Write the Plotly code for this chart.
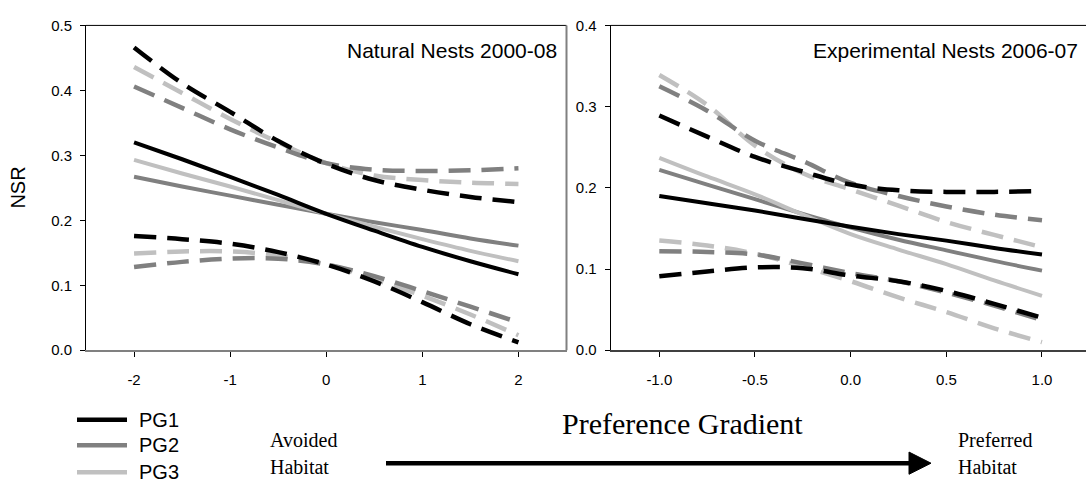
import plotly.graph_objects as go

W, H = 1086, 490


def px(x):
    return x / W


def py(y):
    return 1 - y / H


# ---------------- data ----------------
groups = ["PG1", "PG2", "PG3"]

# Natural Nests 2000-08
nat_x = [-2, -1.5, -1, -0.5, 0, 0.5, 1, 1.5, 2]
nat_pg1_fit = [0.320, 0.294, 0.267, 0.239, 0.210, 0.184, 0.159, 0.137, 0.117]
nat_pg1_hi = [0.466, 0.411, 0.367, 0.322, 0.287, 0.262, 0.247, 0.236, 0.228]
nat_pg1_lo = [0.176, 0.171, 0.164, 0.151, 0.132, 0.106, 0.074, 0.040, 0.012]
nat_pg2_fit = [0.267, 0.252, 0.238, 0.224, 0.210, 0.197, 0.185, 0.172, 0.161]
nat_pg2_hi = [0.406, 0.373, 0.340, 0.312, 0.288, 0.278, 0.276, 0.277, 0.280]
nat_pg2_lo = [0.128, 0.136, 0.141, 0.141, 0.132, 0.114, 0.091, 0.067, 0.043]
nat_pg3_fit = [0.293, 0.272, 0.252, 0.231, 0.210, 0.190, 0.171, 0.153, 0.137]
nat_pg3_hi = [0.436, 0.396, 0.356, 0.320, 0.288, 0.269, 0.262, 0.258, 0.256]
nat_pg3_lo = [0.149, 0.152, 0.152, 0.146, 0.132, 0.109, 0.084, 0.055, 0.023]

# Experimental Nests 2006-07
exp_x = [-1, -0.75, -0.5, -0.25, 0, 0.25, 0.5, 0.75, 1]
exp_pg1_fit = [0.190, 0.181, 0.172, 0.162, 0.152, 0.143, 0.135, 0.126, 0.118]
exp_pg1_hi = [0.289, 0.263, 0.238, 0.220, 0.204, 0.197, 0.195, 0.195, 0.196]
exp_pg1_lo = [0.091, 0.097, 0.102, 0.101, 0.092, 0.085, 0.073, 0.057, 0.040]
exp_pg2_fit = [0.222, 0.204, 0.186, 0.168, 0.151, 0.136, 0.123, 0.110, 0.098]
exp_pg2_hi = [0.325, 0.295, 0.258, 0.233, 0.206, 0.190, 0.177, 0.167, 0.160]
exp_pg2_lo = [0.122, 0.121, 0.118, 0.107, 0.095, 0.085, 0.071, 0.055, 0.037]
exp_pg3_fit = [0.237, 0.214, 0.192, 0.167, 0.143, 0.124, 0.106, 0.086, 0.067]
exp_pg3_hi = [0.339, 0.302, 0.252, 0.218, 0.198, 0.178, 0.158, 0.142, 0.127]
exp_pg3_lo = [0.135, 0.129, 0.119, 0.103, 0.085, 0.065, 0.047, 0.027, 0.010]

nat_ticks = [-2, -1, 0, 1, 2]
nat_tick_labels = ["-2", "-1", "0", "1", "2"]
exp_ticks = [-1.0, -0.5, 0.0, 0.5, 1.0]
exp_tick_labels = ["-1.0", "-0.5", "0.0", "0.5", "1.0"]

# ---------------- style ----------------
colors = {"PG1": "#000000", "PG2": "#808080", "PG3": "#c0c0c0"}
SANS = "Liberation Sans, Arial, sans-serif"
SERIF = "Liberation Serif, Times New Roman, serif"
DASH = "22px,11px"

panels = [
    ("x", "y", nat_x, {
        "PG1": (nat_pg1_fit, nat_pg1_hi, nat_pg1_lo),
        "PG2": (nat_pg2_fit, nat_pg2_hi, nat_pg2_lo),
        "PG3": (nat_pg3_fit, nat_pg3_hi, nat_pg3_lo),
    }),
    ("x2", "y2", exp_x, {
        "PG1": (exp_pg1_fit, exp_pg1_hi, exp_pg1_lo),
        "PG2": (exp_pg2_fit, exp_pg2_hi, exp_pg2_lo),
        "PG3": (exp_pg3_fit, exp_pg3_hi, exp_pg3_lo),
    }),
]

fig = go.Figure()
for xa, ya, xs, series in panels:
    for g in ["PG3", "PG2", "PG1"]:
        fit, hi, lo = series[g]
        for ys in (hi, lo):
            fig.add_trace(go.Scatter(
                x=xs, y=ys, xaxis=xa, yaxis=ya, mode="lines",
                line=dict(color=colors[g], width=4.5, dash=DASH, shape="spline"),
                name=g + " 95% CI", showlegend=False, hoverinfo="skip"))
    for g in ["PG2", "PG3", "PG1"]:
        fit, hi, lo = series[g]
        fig.add_trace(go.Scatter(
            x=xs, y=fit, xaxis=xa, yaxis=ya, mode="lines",
            line=dict(color=colors[g], width=4, shape="spline"),
            name=g, showlegend=False))

y_dom = [py(353.5), py(17)]
axis_common = dict(showgrid=False, zeroline=False, ticks="outside", ticklen=5,
                   tickwidth=1, tickcolor="#000000", showline=True)

fig.update_layout(
    width=W, height=H,
    margin=dict(l=0, r=0, t=0, b=0),
    paper_bgcolor="white", plot_bgcolor="white",
    showlegend=False,
    xaxis=dict(domain=[px(86), px(566.5)], range=[-2.5, 2.5], anchor="y",
               tickvals=nat_ticks, ticktext=nat_tick_labels,
               linecolor="#808080", linewidth=2,
               tickfont=dict(family=SANS, size=15, color="#000"),
               ticklabelstandoff=10, **axis_common),
    yaxis=dict(domain=y_dom, range=[0, 0.5], anchor="x", dtick=0.1, tick0=0,
               tickformat=".1f", linecolor="#000000", linewidth=1,
               tickfont=dict(family=SANS, size=15, color="#000"),
               ticklabelstandoff=5, **axis_common),
    xaxis2=dict(domain=[px(610.7), 1.0], range=[-1.254, 1.23], anchor="y2",
                tickvals=exp_ticks, ticktext=exp_tick_labels,
                linecolor="#404040", linewidth=1.5,
                tickfont=dict(family=SANS, size=15, color="#000"),
                ticklabelstandoff=10, **axis_common),
    yaxis2=dict(domain=y_dom, range=[0, 0.4], anchor="x2", dtick=0.1, tick0=0,
                tickformat=".1f", linecolor="#000000", linewidth=1,
                tickfont=dict(family=SANS, size=15, color="#000"),
                ticklabelstandoff=5, **axis_common),
)

shapes = [
    # frames
    dict(type="line", xref="x domain", yref="y domain", x0=0, x1=1, y0=1, y1=1,
         line=dict(color="#000000", width=1)),
    dict(type="line", xref="x domain", yref="y domain", x0=1, x1=1, y0=0, y1=1,
         line=dict(color="#808080", width=2)),
    dict(type="line", xref="x2 domain", yref="y2 domain", x0=0, x1=1, y0=1, y1=1,
         line=dict(color="#000000", width=1)),
    # arrow shaft and head
    dict(type="line", xref="paper", yref="paper", x0=px(386), x1=px(912),
         y0=py(470.5), y1=py(470.5), line=dict(color="#000000", width=4.5)),
    dict(type="path", xref="paper", yref="paper",
         path=f"M {px(909)} {py(459)} L {px(931)} {py(470.5)} L {px(909)} {py(482)} Z",
         fillcolor="#000000", line=dict(color="#000000", width=1)),
]

legend_y = {"PG1": 425.5, "PG2": 452, "PG3": 480}
for g in groups:
    shapes.append(dict(type="line", xref="paper", yref="paper",
                       x0=px(77), x1=px(127), y0=py(legend_y[g]), y1=py(legend_y[g]),
                       line=dict(color=colors[g], width=4.5)))
fig.update_layout(shapes=shapes)

annotations = [
    dict(text="Natural Nests 2000-08", x=px(559), y=py(43), xanchor="right",
         yanchor="middle", font=dict(family=SANS, size=21, color="#000")),
    dict(text="Experimental Nests 2006-07", x=px(1080), y=py(43), xanchor="right",
         yanchor="middle", font=dict(family=SANS, size=21, color="#000")),
    dict(text="NSR", x=px(18), y=py(185), textangle=-90, xanchor="center",
         yanchor="middle", font=dict(family=SANS, size=20, color="#000")),
    dict(text="Preference Gradient", x=px(682), y=py(429), xanchor="center",
         yanchor="middle", font=dict(family=SERIF, size=30, color="#000")),
    dict(text="Avoided", x=px(268), y=py(447), xanchor="left", yanchor="middle",
         font=dict(family=SERIF, size=20, color="#000")),
    dict(text="Habitat", x=px(268), y=py(474), xanchor="left", yanchor="middle",
         font=dict(family=SERIF, size=20, color="#000")),
    dict(text="Preferred", x=px(956), y=py(447), xanchor="left", yanchor="middle",
         font=dict(family=SERIF, size=20, color="#000")),
    dict(text="Habitat", x=px(956), y=py(474), xanchor="left", yanchor="middle",
         font=dict(family=SERIF, size=20, color="#000")),
]
for g in groups:
    annotations.append(dict(text=g, x=px(137), y=py(legend_y[g]), xanchor="left",
                            yanchor="middle",
                            font=dict(family=SANS, size=20, color="#000")))
for a in annotations:
    a.update(xref="paper", yref="paper", showarrow=False)
fig.update_layout(annotations=annotations)

fig.write_html("out.html")
